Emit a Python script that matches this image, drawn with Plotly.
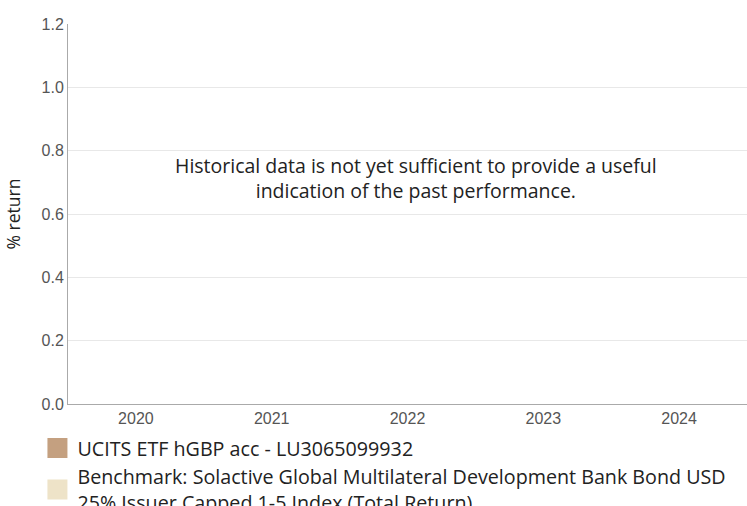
import plotly.graph_objects as go

years = ["2020", "2021", "2022", "2023", "2024"]
fund_values = [None, None, None, None, None]
bench_values = [None, None, None, None, None]
fund_name = "UCITS ETF hGBP acc - LU3065099932"
bench_name = "Benchmark: Solactive Global Multilateral Development Bank Bond USD<br>25% Issuer Capped 1-5 Index (Total Return)"
y_ticks = [0.0, 0.2, 0.4, 0.6, 0.8, 1.0, 1.2]
message = "Historical data is not yet sufficient to provide a useful<br>indication of the past performance."

fund_color = "#C4A080"
bench_color = "#EEE3C8"

fig = go.Figure()
fig.add_trace(go.Bar(x=years, y=fund_values, name=fund_name, marker_color=fund_color, showlegend=False))
fig.add_trace(go.Bar(x=years, y=bench_values, name=bench_name, marker_color=bench_color, showlegend=False))
# legend entries with large square swatches
for name, col in [(fund_name, fund_color), (bench_name, bench_color)]:
    fig.add_trace(go.Scatter(x=[None], y=[None], mode="markers", name=name,
                             marker=dict(symbol="square", size=16, color=col,
                                         line=dict(color=col, width=4))))

fig.update_layout(
    width=747, height=506,
    margin=dict(l=68, r=0, t=24, b=102, autoexpand=False),
    paper_bgcolor="white", plot_bgcolor="white",
    font=dict(family="Open Sans", color="#222"),
    showlegend=True,
    legend=dict(orientation="v", x=-0.045, y=-0.065, xanchor="left", yanchor="top",
                font=dict(size=19.7, color="#222"), tracegroupgap=0, itemsizing="trace",
                itemwidth=30),
    xaxis=dict(type="category", categoryarray=years, showgrid=False, showline=True,
               linecolor="#aaaaaa", linewidth=1, ticks="", automargin=False,
               tickfont=dict(family="Liberation Sans", size=16, color="#555")),
    yaxis=dict(range=[0, 1.2], tickvals=y_ticks, tickformat=".1f", showgrid=True,
               gridcolor="#e8e8e8", showline=True, linecolor="#aaaaaa", zeroline=False,
               ticks="", automargin=False, tickfont=dict(family="Liberation Sans", size=16, color="#555"),
               title=dict(text="% return", font=dict(family="Open Sans", size=17.5, color="#222"), standoff=16)),
    annotations=[dict(text=message, xref="paper", yref="paper", x=0.512, y=0.596, showarrow=False,
                      font=dict(family="Open Sans", size=19.5, color="#222"), align="center")],
)

fig.write_html("out.html", config={"displayModeBar": False},
               post_script="document.body.style.margin='0';document.body.style.overflow='hidden';")
